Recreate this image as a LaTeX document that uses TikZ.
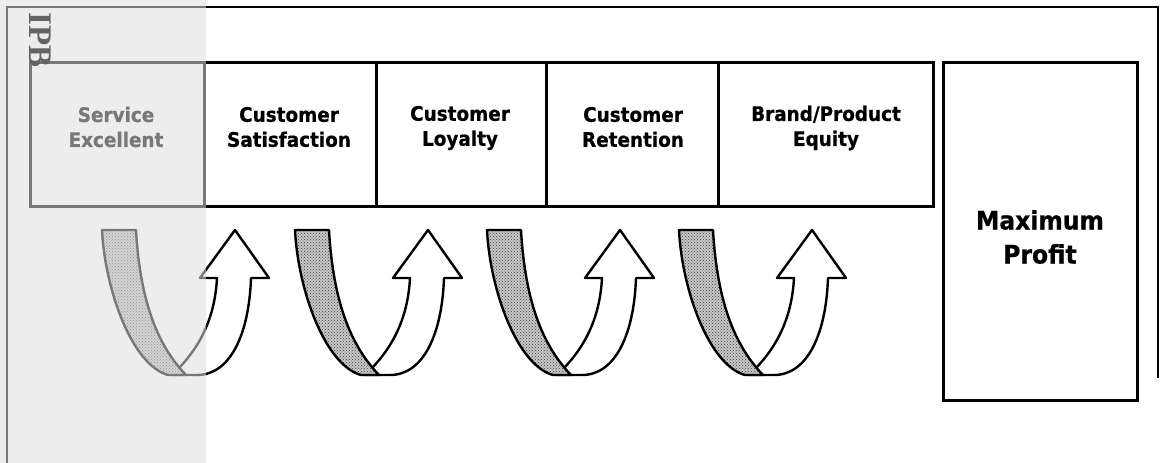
\documentclass[tikz,border=0pt]{standalone}
\usepackage{fontspec}
\usetikzlibrary{patterns}
\newfontfamily\lblfont[FakeStretch=0.92,BoldFeatures={FakeBold=0.7}]{DejaVu Sans}
\newfontfamily\markfont{Liberation Serif}
\definecolor{panelgray}{RGB}{222,222,222}
\definecolor{markgray}{RGB}{100,100,100}
\begin{document}
\begin{tikzpicture}[x=1pt,y=-1pt,
  stagebox/.style={draw=black,line width=3pt},
  stagelabel/.style={font=\lblfont\bfseries\fontsize{20}{25}\selectfont,align=center,inner sep=0pt},
  goallabel/.style={font=\lblfont\bfseries\fontsize{25.5}{34}\selectfont,align=center,inner sep=0pt},
  frameline/.style={draw=black,line width=2.3pt},
  turnline/.style={draw=black,line width=2.4pt,line join=round}]
\useasboundingbox (0,0) rectangle (1160,463);
\fill[white] (0,0) rectangle (1160,463);

% outer frame (open at the bottom)
\draw[frameline] (7,463) -- (7,7) -- (1158,7) -- (1158,378);

% chain of stages
\draw[stagebox] (30,62) rectangle (204,206);
\draw[stagebox] (204,62) rectangle (376,206);
\draw[stagebox] (376,62) rectangle (546,206);
\draw[stagebox] (546,62) rectangle (718,206);
\draw[stagebox] (718,62) rectangle (933,206);
\draw[stagebox] (943,62) rectangle (1137,400);

\node[stagelabel] (service)   at (116,127) {Service\\Excellent};
\node[stagelabel] (satisf)    at (289,127) {Customer\\Satisfaction};
\node[stagelabel] (loyalty)   at (460,128) {Customer\\Loyalty};
\node[stagelabel] (retention) at (633,127) {Customer\\Retention};
\node[stagelabel] (equity)    at (826,128) {Brand/Product\\Equity};
\node[goallabel]  (profit)    at (1040,237) {Maximum\\Profit};

% U-turn arrows between the stages
\foreach \xo in {102,295,487,679}{
  \begin{scope}[shift={(\xo,230)}]
    % rising white half with its head
    \filldraw[turnline,fill=white]
      (70,145) -- (95,145) .. controls (128,145) and (147,105) .. (149,48)
      -- (167,48) -- (133,0) -- (98,48) -- (115,48)
      .. controls (113,85) and (100,115) .. (75,140) -- cycle;
    % shaded falling half (back of the ribbon)
    \fill[black!22]
      (0,0) -- (34,0) .. controls (38,70) and (55,115) .. (84,145)
      -- (66,145) .. controls (30,135) and (3,60) .. cycle;
    \fill[pattern=crosshatch dots,pattern color=black!75]
      (0,0) -- (34,0) .. controls (38,70) and (55,115) .. (84,145)
      -- (66,145) .. controls (30,135) and (3,60) .. cycle;
    \draw[turnline]
      (0,0) -- (34,0) .. controls (38,70) and (55,115) .. (84,145)
      -- (66,145) .. controls (30,135) and (3,60) .. cycle;
  \end{scope}
}

% translucent panel over the left strip
\fill[panelgray,fill opacity=0.54] (0,0) rectangle (206,463);
\node[rotate=-90,text=markgray,font=\markfont\bfseries\fontsize{33}{33}\selectfont,inner sep=0pt] (mark) at (40,40) {IPB};
\end{tikzpicture}
\end{document}
